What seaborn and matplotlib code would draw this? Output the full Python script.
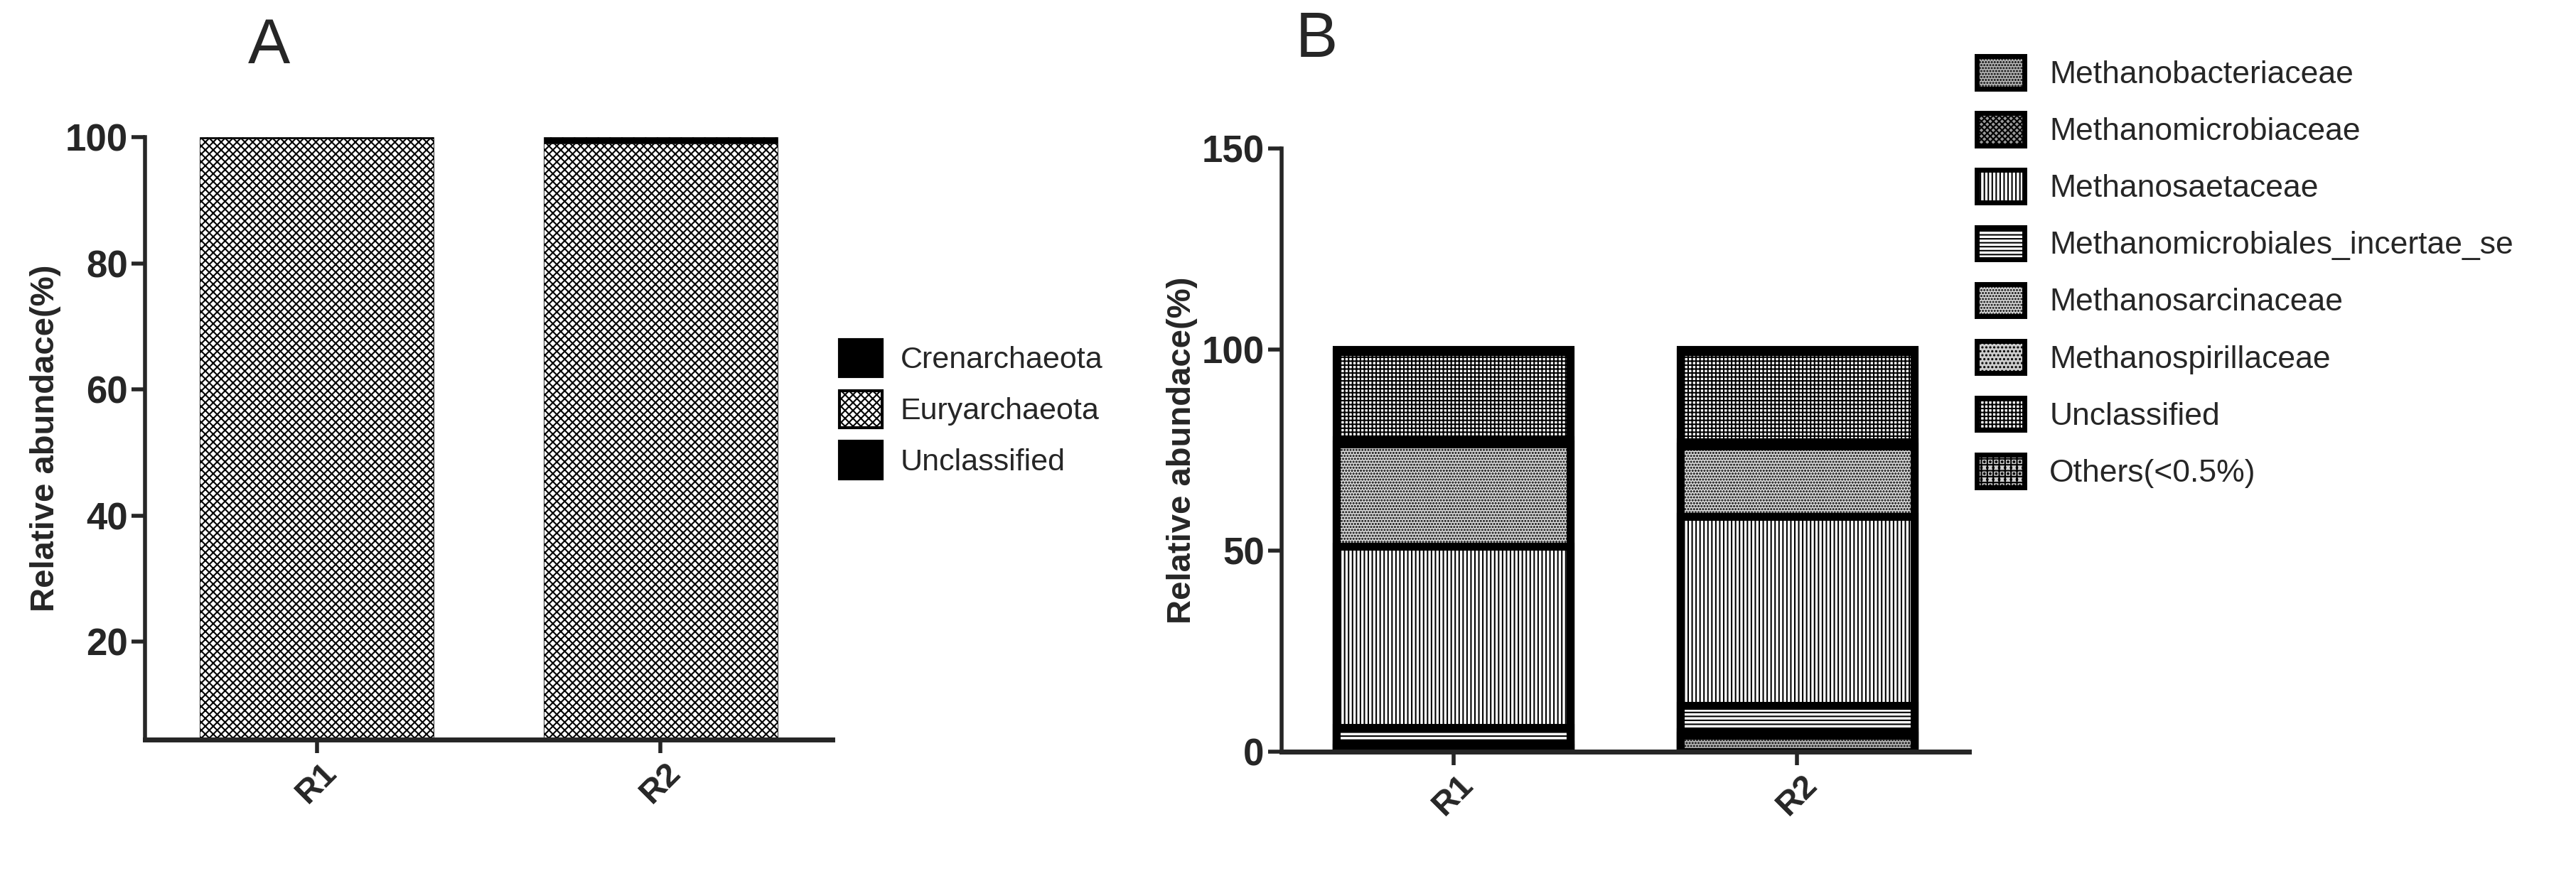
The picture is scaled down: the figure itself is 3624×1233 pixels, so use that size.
import matplotlib
matplotlib.use("Agg")
import matplotlib.pyplot as plt
import seaborn as sns
import pandas as pd
import numpy as np
from matplotlib.patches import Patch

sns.set_theme(style="ticks")
plt.rcParams['font.family'] = ['Liberation Sans', 'DejaVu Sans']
plt.rcParams['hatch.linewidth'] = 1.5

samples = ["R1", "R2"]

# Panel A (phylum)
phyla = ["Crenarchaeota", "Euryarchaeota", "Unclassified"]
crenarchaeota = [0.3, 0.5]
euryarchaeota = [99.5, 98.5]
unclassified_a = [0.2, 1.0]

# Panel B (family), legend order
families = ["Methanobacteriaceae", "Methanomicrobiaceae", "Methanosaetaceae",
            "Methanomicrobiales_incertae_se", "Methanosarcinaceae",
            "Methanospirillaceae", "Unclassified", "Others(<0.5%)"]
methanobacteriaceae = [1.0, 4.0]
methanomicrobiaceae = [1.0, 1.0]
methanosaetaceae = [45.0, 47.0]
incertae = [4.0, 6.5]
methanosarcinaceae = [25.5, 17.5]
methanospirillaceae = [1.0, 1.0]
unclassified_b = [22.0, 22.5]
others = [0.5, 0.5]

W, H = 3624, 1233
fig = plt.figure(figsize=(W / 100, H / 100), dpi=100)
axA = fig.add_axes([204 / W, 1 - 1041 / H, 967 / W, 848 / H])
axB = fig.add_axes([1803 / W, 1 - 1058 / H, 967 / W, 849 / H])

LW = 8

def stacked(ax, layers, hatches, faces, lw):
    cum = np.zeros(len(samples))
    tops = []
    for vals in layers:
        cum = cum + np.array(vals)
        tops.append(cum.copy())
    for top, h, fc in reversed(list(zip(tops, hatches, faces))):
        df = pd.DataFrame({"sample": samples, "v": top})
        sns.barplot(data=df, x="sample", y="v", ax=ax, color=fc, width=0.68,
                    edgecolor="black", linewidth=lw, hatch=h, saturation=1)

# Panel A
hatchA = ["oooo", "xxx", "+"]
faceA = ["black", "white", "black"]
stacked(axA, [crenarchaeota, euryarchaeota, unclassified_a], hatchA, faceA, 0.5)
axA.set_ylim(4.5, 100)
axA.set_yticks([20, 40, 60, 80, 100])
axA.legend(handles=[Patch(facecolor=f, edgecolor="black", hatch=h, linewidth=3)
                    for f, h in zip(faceA, hatchA)], labels=phyla,
           loc="upper left", bbox_to_anchor=(0.97, 0.71), frameon=False,
           fontsize=31, handlelength=1.4, handleheight=1.5, labelspacing=0.45,
           handletextpad=0.6)
axA.text(0.15, 1.1, "A", transform=axA.transAxes, fontsize=64, ha="left", va="bottom")

# Panel B (stack order bottom -> top)
orderB = [methanobacteriaceae, methanomicrobiaceae, incertae, methanosaetaceae,
          methanosarcinaceae, methanospirillaceae, unclassified_b, others]
hatchB_legend = ["....", "xxxx", "|||", "---", "....", "...", "+++", "++.."]
faceB_legend = ["#bbbbbb", "#999999", "white", "white", "#dddddd", "#cccccc", "white", "#cccccc"]
idx = [0, 1, 3, 2, 4, 5, 6, 7]
stacked(axB, orderB, [hatchB_legend[i] for i in idx], [faceB_legend[i] for i in idx], LW)
axB.set_ylim(0, 150)
axB.set_yticks([0, 50, 100, 150])
axB.legend(handles=[Patch(facecolor=f, edgecolor="black", hatch=h, linewidth=5)
                    for f, h in zip(faceB_legend, hatchB_legend)], labels=families,
           loc="upper left", bbox_to_anchor=(0.97, 1.2), frameon=False,
           fontsize=32, handlelength=1.5, handleheight=1.2, labelspacing=0.75,
           handletextpad=0.8)
axB.text(0.02, 1.13, "B", transform=axB.transAxes, fontsize=64, ha="left", va="bottom")

for ax in (axA, axB):
    ax.set_xlim(-0.5, 1.5)
    sns.despine(ax=ax)
    ax.spines["left"].set_linewidth(4)
    ax.spines["bottom"].set_linewidth(5)
    ax.tick_params(axis="both", width=4, length=14, labelsize=38)
    ax.set_xlabel("")
    ax.set_ylabel("Relative abundace(%)", fontsize=34, fontweight="bold")
    for lab in ax.get_xticklabels():
        lab.set_rotation(45)
        lab.set_fontweight("bold")
        lab.set_fontsize(34)
    for lab in ax.get_yticklabels():
        lab.set_fontweight("bold")

fig.savefig("out.png", dpi=100)
